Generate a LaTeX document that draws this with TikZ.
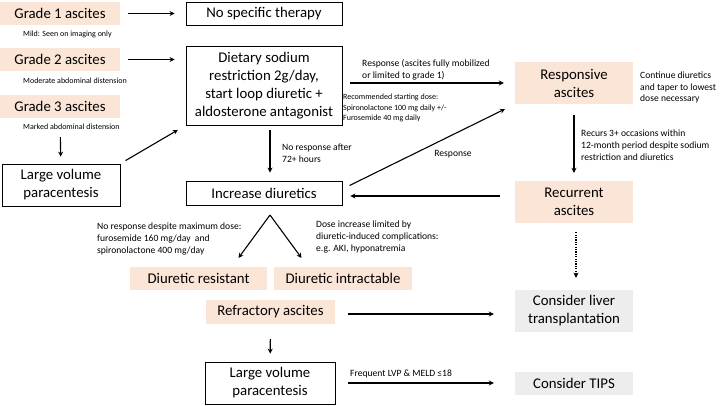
\documentclass[tikz,border=0pt]{standalone}
\usepackage{fontspec}
\setmainfont{Carlito}
\usetikzlibrary{arrows.meta}
\definecolor{peach}{HTML}{FBE5D6}
\definecolor{palegrey}{HTML}{EDEDED}
\tikzset{
  boxfont/.style={font=\fontsize{14.8}{18}\selectfont},
  stagebox/.style={fill=peach, inner sep=0pt, align=center, boxfont},
  therapybox/.style={draw, line width=0.8pt, fill=white, inner sep=0pt, align=center, boxfont},
  optionbox/.style={fill=palegrey, inner sep=0pt, align=center, boxfont},
  note/.style={font=\fontsize{9.6}{11.8}\selectfont, align=left, anchor=west, inner sep=0pt},
  smallnote/.style={font=\fontsize{8}{10.5}\selectfont, align=left, anchor=west, inner sep=0pt},
  arrow/.style={-{Stealth[length=5pt,width=5pt]}, line width=1.1pt, shorten <=8pt, shorten >=11pt}
}
\begin{document}
\begin{tikzpicture}[x=1pt, y=-1pt]
  \useasboundingbox (0,0) rectangle (720,405);
  % grades
  \node[stagebox, minimum width=120pt, minimum height=23pt] (g1) at (60,13.5) {Grade 1 ascites};
  \node[stagebox, minimum width=120pt, minimum height=23pt] (g2) at (60,59.5) {Grade 2 ascites};
  \node[stagebox, minimum width=120pt, minimum height=23pt] (g3) at (60,106.5) {Grade 3 ascites};
  \node[smallnote] (mild) at (23,34) {Mild: Seen on imaging only};
  \node[smallnote] (moderate) at (23,81) {Moderate abdominal distension};
  \node[smallnote] (marked) at (23,127) {Marked abdominal distension};
  \node[therapybox, minimum width=118pt, minimum height=42pt] (lvp1) at (61,185) {Large volume\\paracentesis};
  % first line therapy
  \node[therapybox, minimum width=156pt, minimum height=23pt] (nospec) at (264,13.5) {No specific therapy};
  \node[therapybox, minimum width=156pt, minimum height=79pt] (diet) at (264,85.5)
    {Dietary sodium\\restriction 2g/day,\\start loop diuretic +\\aldosterone antagonist};
  \node[therapybox, minimum width=156pt, minimum height=24pt] (incr) at (264,193) {Increase diuretics};
  \node[note] (noresp) at (282,153) {No response after\\72+ hours};
  \node[smallnote] (startdose) at (343,108) {Recommended starting dose:\\Spironolactone 100 mg daily +/-\\Furosemide 40 mg daily};
  \node[note] (fullresp) at (362,69.5) {Response (ascites fully mobilized\\or limited to grade 1)};
  % response branch
  \node[stagebox, minimum width=118pt, minimum height=42pt] (resp) at (574,83) {Responsive\\ascites};
  \node[stagebox, minimum width=118pt, minimum height=42pt] (recur) at (574,202) {Recurrent\\ascites};
  \node[note] (continue) at (640,87.5) {Continue diuretics\\and taper to lowest\\dose necessary};
  \node[note] (recurs) at (581,145) {Recurs 3+ occasions within\\12-month period despite sodium\\restriction and diuretics};
  \node[note, anchor=center] (respnote) at (453,154) {Response};
  % refractory branch
  \coordinate (split) at (270,215);
  \node[stagebox, minimum width=137pt, minimum height=23pt] (dres) at (198.5,278.5) {Diuretic resistant};
  \node[stagebox, minimum width=138pt, minimum height=23pt] (dint) at (343,278.5) {Diuretic intractable};
  \node[note] (maxdose) at (97,239) {No response despite maximum dose:\\furosemide 160 mg/day~ and\\spironolactone 400 mg/day};
  \node[note] (limited) at (316,237) {Dose increase limited by\\diuretic-induced complications:\\e.g. AKI, hyponatremia};
  \node[stagebox, minimum width=129pt, minimum height=24pt] (refr) at (270.5,312) {Refractory ascites};
  \node[therapybox, minimum width=130pt, minimum height=42pt] (lvp2) at (270,383) {Large volume\\paracentesis};
  \node[optionbox, minimum width=118pt, minimum height=42pt] (liver) at (574,311) {Consider liver\\transplantation};
  \node[optionbox, minimum width=118pt, minimum height=23pt] (tips) at (574,383) {Consider TIPS};
  \node[note] (frequent) at (350,374) {Frequent LVP \& MELD ≤18};
  % connectors
  \draw[arrow] (g1) -- (nospec);
  \draw[arrow] (g2.east) -- (g2.east -| diet.west);
  \draw[arrow, shorten <=19pt, shorten >=7pt] (g3) -- (lvp1);
  \draw[arrow, shorten <=6pt, shorten >=9pt] (lvp1.north east) -- (diet.south west);
  \draw[arrow, shorten <=5pt, shorten >=8pt] ([xshift=6pt]diet.south) -- ([xshift=6pt]incr.north);
  \draw[arrow] (diet.east |- resp.west) -- (resp.west);
  \draw[arrow] ([yshift=4pt]incr.east) -- (resp.south west);
  \draw[arrow, shorten <=11pt, shorten >=8pt] (resp) -- (recur);
  \draw[arrow, shorten <=15pt, shorten >=8pt] ([yshift=6pt]recur.west) -- ([yshift=6pt]recur.west -| incr.east);
  \draw[arrow, line width=1.4pt, dash pattern=on 1.2pt off 1.2pt, shorten <=9pt, shorten >=12pt] ([xshift=2pt]recur.south) -- ([xshift=2pt]liver.north);
  \draw[arrow, shorten <=0pt, shorten >=11pt] (split) -- ([xshift=33.5pt]dres.north);
  \draw[arrow, shorten <=0pt, shorten >=11pt] (split) -- ([xshift=-35pt]dint.north);
  \draw[arrow, shorten <=15pt, shorten >=8pt] (refr) -- (lvp2);
  \draw[arrow, shorten <=13pt, shorten >=21pt] ([yshift=-2pt]refr.east) -- ([yshift=-2pt]refr.east -| liver.west);
  \draw[arrow, shorten <=13pt, shorten >=21pt] (lvp2.east) -- (lvp2.east -| tips.west);
\end{tikzpicture}
\end{document}
